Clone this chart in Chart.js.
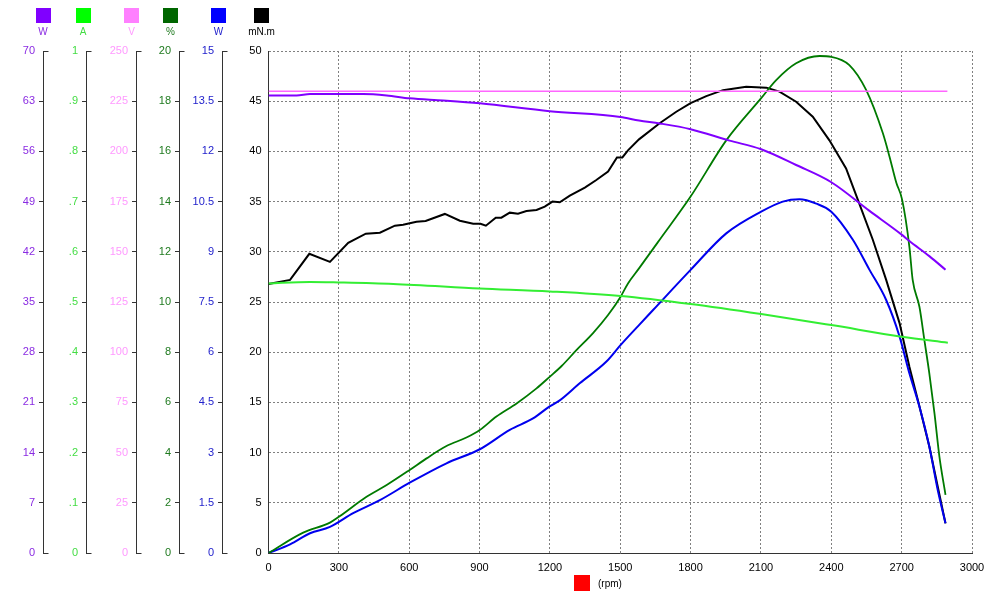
<!DOCTYPE html>
<html><head><meta charset="utf-8">
<script src="https://cdn.jsdelivr.net/npm/chart.js@4.4.0/dist/chart.umd.min.js"></script>
<style>html,body{margin:0;padding:0;background:#fff;}</style>
</head><body>
<canvas id="c" width="1000" height="600"></canvas>
<script>
// ---- data ----
const powerInRpm = [0,120,177,404,504,602,745,901,1199,1501,1580,1668,1800,1966,2101,2250,2400,2563,2700,2733,2818,2887];
const powerInW   = [63.8,63.8,64.0,64.0,63.8,63.4,63.1,62.7,61.6,60.8,60.3,59.9,59.1,57.5,56.3,54.1,51.7,47.7,44.4,43.5,41.4,39.5];

const currentRpm = [0,177,300,532,901,1199,1501,1800,2101,2400,2700,2897];
const currentA   = [0.537,0.540,0.539,0.536,0.527,0.521,0.512,0.496,0.476,0.454,0.431,0.419];

const voltageRpm = [0,2895];
const voltageV   = [230,230];

const effRpm = [0,148,262,300,418,504,602,674,759,844,901,972,1058,1143,1199,1249,1313,1384,1448,1501,1533,1580,1668,1800,1952,2101,2165,2250,2350,2400,2477,2549,2620,2648,2677,2702,2733,2747,2776,2797,2818,2840,2861,2887];
const effPct = [0,0.81,1.21,1.44,2.24,2.71,3.31,3.77,4.26,4.6,4.9,5.44,5.96,6.56,7.02,7.44,8.08,8.76,9.48,10.2,10.74,11.34,12.48,14.2,16.44,18.12,18.84,19.51,19.8,19.77,19.44,18.44,16.72,15.8,14.76,14.08,12.2,10.88,9.8,8.48,7.16,5.56,3.84,2.32];

const powerOutRpm = [0,92,177,262,361,475,602,759,901,1029,1128,1199,1242,1327,1441,1501,1580,1640,1800,1952,2101,2193,2264,2336,2400,2492,2563,2634,2691,2733,2776,2818,2854,2887];
const powerOutW   = [0,0.26,0.59,0.78,1.19,1.58,2.1,2.68,3.1,3.68,4.02,4.38,4.56,5.07,5.72,6.21,6.81,7.26,8.46,9.55,10.2,10.5,10.57,10.44,10.2,9.36,8.46,7.56,6.47,5.37,4.37,3.18,1.88,0.89];

const torqueRpm = [0,92,174,262,340,415,475,539,574,631,670,752,816,873,904,927,969,993,1029,1064,1100,1143,1178,1211,1242,1285,1349,1398,1448,1486,1509,1533,1580,1668,1739,1800,1867,1938,2037,2123,2179,2250,2321,2392,2463,2513,2577,2634,2691,2733,2776,2818,2854,2887];
const torqueMNm = [26.8,27.2,29.8,29.0,30.9,31.8,31.9,32.6,32.7,33.0,33.07,33.77,33.1,32.8,32.8,32.6,33.4,33.4,33.9,33.8,34.06,34.16,34.5,35.0,34.93,35.6,36.4,37.15,38.0,39.4,39.4,40.1,41.2,42.8,43.95,44.8,45.5,46.1,46.45,46.35,45.95,44.95,43.46,41.1,38.3,35.2,31.2,27.2,22.9,18.55,14.6,10.6,6.6,2.95];

const axisUnits = ['W','A','V','%','W','mN.m'];
const axisMax   = [70, 1, 250, 20, 15, 50];
const axisStep  = [7, 0.1, 25, 2, 1.5, 5];
const rpmMax = 3000, rpmStep = 300;
const xUnit = '(rpm)';

// ---- styling ----
const FONT = "'Liberation Sans', Arial, sans-serif";
const lineColors  = ['#8000ff','#33ee33','#ff66ff','#007a00','#0000ee','#000000'];
const labelColors = ['#8a2be2','#44dd44','#ff99ff','#1f7a1f','#2222cc','#000000'];
const swatchColors= ['#8000ff','#00ff00','#ff80ff','#006600','#0000ff','#000000'];
const axisIds = ['yP','yA','yV','yE','yO','yT'];
const axisWidths = [43, 43, 50, 43, 43, 46.5];

const pairs = (xs, ys) => xs.map((x, i) => ({x, y: ys[i]}));

function fmt(i, v) {
  if (i === 1) { if (v === 0) return '0'; if (Math.abs(v - 1) < 1e-9) return '1'; return '.' + Math.round(v * 10); }
  return String(Math.round(v * 10) / 10);
}

const scales = {
  x: {
    type: 'linear', min: 0, max: rpmMax,
    ticks: { stepSize: rpmStep, color: '#000', font: {family: FONT, size: 11}, padding: 8, maxRotation: 0, autoSkip: false,
             callback: v => String(Math.round(v)) },
    grid: { color: c => (c.tick && c.tick.value === 0) ? 'rgba(0,0,0,0)' : '#808080', drawTicks: false, lineWidth: 1 },
    border: { color: '#333', width: 1, dash: [2, 2] },
    afterFit: s => { s.height = 47; }
  }
};
axisIds.forEach((id, i) => {
  const isMain = i === 5;
  scales[id] = {
    type: 'linear', position: 'left', min: 0, max: axisMax[i], weight: 6 - i,
    ticks: { stepSize: axisStep[i], color: labelColors[i], font: {family: FONT, size: 11}, padding: isMain ? 7 : 4, autoSkip: false,
             callback: v => fmt(i, v) },
    grid: isMain
      ? { color: c => (c.tick && c.tick.value === 0) ? 'rgba(0,0,0,0)' : '#808080', drawTicks: false, lineWidth: 1 }
      : { drawOnChartArea: false, drawTicks: true, tickLength: 4, color: '#333',
          tickColor: c => (c.tick && (c.tick.value === 0 || Math.abs(c.tick.value - axisMax[i]) < 1e-9)) ? 'rgba(0,0,0,0)' : '#333' },
    border: isMain ? { color: '#333', width: 1, dash: [2, 2] } : { color: '#333', width: 1 },
    afterFit: s => { s.width = axisWidths[i]; }
  };
});

const series = [
  {data: pairs(powerInRpm, powerInW), axis: 0, w: 2, smooth: true},
  {data: pairs(currentRpm, currentA), axis: 1, w: 2, smooth: true},
  {data: pairs(voltageRpm, voltageV), axis: 2, w: 1.5, smooth: false},
  {data: pairs(effRpm, effPct), axis: 3, w: 1.8, smooth: true},
  {data: pairs(powerOutRpm, powerOutW), axis: 4, w: 2, smooth: true},
  {data: pairs(torqueRpm, torqueMNm), axis: 5, w: 2, smooth: false}
];

const decor = {
  id: 'decor',
  afterDraw(chart) {
    const ctx = chart.ctx;
    ctx.save();
    // serifs at top/bottom of the colored axes
    ctx.strokeStyle = '#333'; ctx.lineWidth = 1;
    axisIds.slice(0, 5).forEach(id => {
      const s = chart.scales[id];
      const x = Math.round(s.right) + 0.5;
      ctx.beginPath();
      ctx.moveTo(x, Math.round(s.top) + 0.5); ctx.lineTo(x + 5, Math.round(s.top) + 0.5);
      ctx.moveTo(x, Math.round(s.bottom) + 0.5); ctx.lineTo(x + 5, Math.round(s.bottom) + 0.5);
      ctx.stroke();
    });
    // unit legend above the axes
    const centers = [43, 83, 131.5, 170.5, 218.5, 261.5];
    ctx.font = '10px ' + FONT; ctx.textAlign = 'center'; ctx.textBaseline = 'middle';
    centers.forEach((cx, i) => {
      ctx.fillStyle = swatchColors[i];
      ctx.fillRect(Math.round(cx - 7.5), 8, 15, 15);
      ctx.fillStyle = labelColors[i];
      ctx.fillText(axisUnits[i], cx, 32);
    });
    // x unit legend
    ctx.fillStyle = '#ff0000';
    ctx.fillRect(574, 575, 16, 16);
    ctx.fillStyle = '#000'; ctx.textAlign = 'left';
    ctx.fillText(xUnit, 598, 584);
    ctx.restore();
  }
};

new Chart(document.getElementById('c'), {
  type: 'line',
  data: {
    datasets: series.map(s => ({
      data: s.data, yAxisID: axisIds[s.axis], borderColor: lineColors[s.axis],
      backgroundColor: lineColors[s.axis], borderWidth: s.w, pointRadius: 0, fill: false,
      tension: 0, cubicInterpolationMode: s.smooth ? 'monotone' : 'default'
    }))
  },
  options: {
    responsive: false, animation: false, devicePixelRatio: 1, parsing: false,
    layout: { padding: { left: 0, right: 28, top: 51, bottom: 0 } },
    plugins: { legend: { display: false }, tooltip: { enabled: false } },
    scales
  },
  plugins: [decor]
});
</script>
</body></html>
